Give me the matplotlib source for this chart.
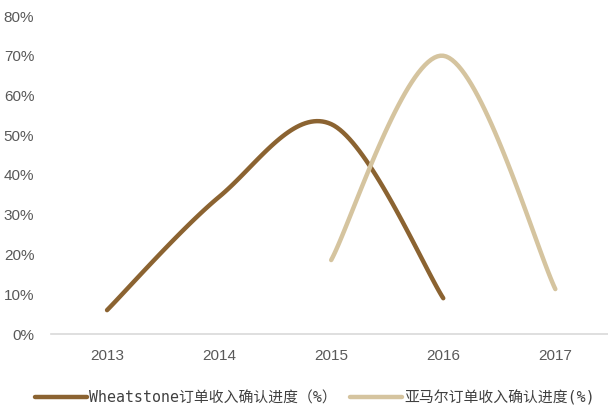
import numpy as np
import matplotlib
matplotlib.use('Agg')
import matplotlib.pyplot as plt
from matplotlib.ticker import PercentFormatter

years = ['2013', '2014', '2015', '2016', '2017']
wheatstone = [6.0, 34.5, 52.8, 9.0]          # 2013-2016
amazon = [18.6, 70.0, 11.3]                  # 2015-2017
wheatstone_x = [0, 1, 2, 3]
amazon_x = [2, 3, 4]

BROWN = '#8B6331'
TAN = '#D5C49F'


def smooth(xs, ys, n=40):
    # Catmull-Rom style cubic Bezier through every point (like a "smoothed line")
    p = np.column_stack([xs, ys]).astype(float)
    p_ext = np.vstack([p[0], p, p[-1]])
    out = []
    for i in range(len(p) - 1):
        p0, p1, p2, p3 = p_ext[i], p_ext[i + 1], p_ext[i + 2], p_ext[i + 3]
        c1 = p1 + (p2 - p0) / 6
        c2 = p2 - (p3 - p1) / 6
        t = np.linspace(0, 1, n)[:, None]
        seg = ((1 - t) ** 3) * p1 + 3 * ((1 - t) ** 2) * t * c1 + 3 * (1 - t) * t ** 2 * c2 + t ** 3 * p2
        out.append(seg if i == 0 else seg[1:])
    seg = np.vstack(out)
    return seg[:, 0], seg[:, 1]


fig = plt.figure(figsize=(6.08, 4.12), dpi=100)
ax = fig.add_axes([51 / 608, 78 / 412, 557 / 608, 318 / 412])

xw, yw = smooth(wheatstone_x, wheatstone)
xa, ya = smooth(amazon_x, amazon)
ax.plot(xw, yw, color=BROWN, lw=3.2, solid_capstyle='round',
        label='Wheatstone订单收入确认进度（%）')
ax.plot(xa, ya, color=TAN, lw=3.2, solid_capstyle='round',
        label='亚马尔订单收入确认进度(%)')

ax.set_xlim(-0.5, 4.47)
ax.set_ylim(0, 80)
ax.set_yticks(np.arange(0, 81, 10))
ax.yaxis.set_major_formatter(PercentFormatter(decimals=0))
ax.set_xticks(range(len(years)))
ax.set_xticklabels(years)

for side in ['top', 'right', 'left']:
    ax.spines[side].set_visible(False)
ax.spines['bottom'].set_color('#D9D9D9')
ax.spines['bottom'].set_linewidth(1.2)
ax.tick_params(length=0, labelsize=11, labelcolor='#595959')
ax.tick_params(axis='y', pad=12)
ax.tick_params(axis='x', pad=11)
for lbl in ax.get_xticklabels() + ax.get_yticklabels():
    lbl.set_family('Liberation Sans')

leg = fig.legend(loc='center left', bbox_to_anchor=(35 / 608, 14 / 412), ncol=2, frameon=False,
                 borderpad=0, borderaxespad=0,
                 handlelength=3.5, handletextpad=0.13, columnspacing=0.9,
                 prop={'family': ['DejaVu Sans Mono', 'Noto Sans CJK SC'], 'size': 10.7})
for t in leg.get_texts():
    t.set_color('#404040')

fig.savefig('out.png', dpi=100)
